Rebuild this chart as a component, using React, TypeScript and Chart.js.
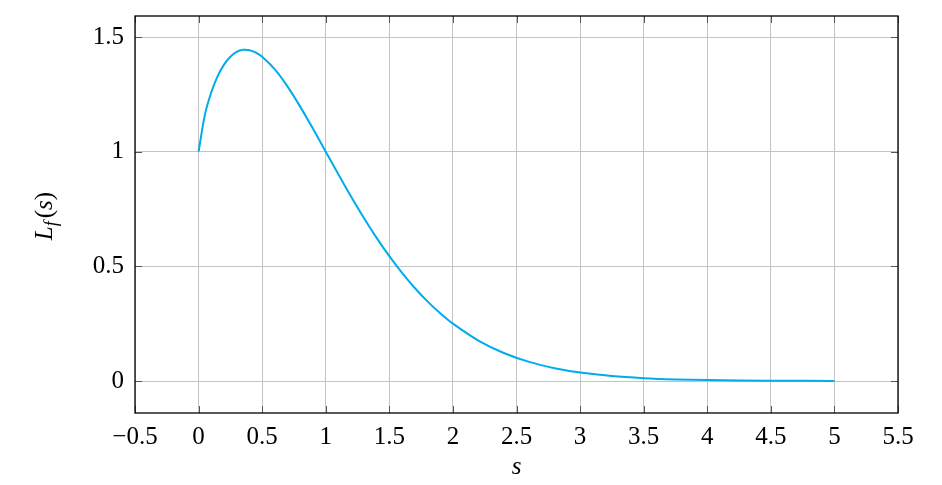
import React, { useEffect, useRef } from "react";
import { Chart, registerables } from "chart.js";

Chart.register(...registerables);

const S_VALUES = [0, 0.05, 0.1, 0.15, 0.2, 0.25, 0.3, 0.35, 0.4, 0.45, 0.5, 0.6, 0.7, 0.8, 0.9, 1.0, 1.1, 1.2, 1.3, 1.4, 1.5, 1.6, 1.7, 1.8, 1.9, 2.0, 2.2, 2.4, 2.6, 2.8, 3.0, 3.25, 3.5, 3.75, 4.0, 4.5, 5.0];
const L_VALUES = [1, 1.1616, 1.2589, 1.3292, 1.3797, 1.4142, 1.4351, 1.444, 1.4427, 1.4323, 1.4142, 1.3587, 1.2836, 1.1954, 1.0995, 1.0, 0.9005, 0.8035, 0.711, 0.6243, 0.5443, 0.4714, 0.4057, 0.3471, 0.2953, 0.25, 0.1765, 0.1223, 0.0834, 0.056, 0.037, 0.0217, 0.0125, 0.007, 0.0039, 0.00115, 0.00032];
const X_TICKS = [-0.5, 0, 0.5, 1, 1.5, 2, 2.5, 3, 3.5, 4, 4.5, 5, 5.5];
const Y_TICKS = [0, 0.5, 1, 1.5];
const X_RANGE = [-0.5, 5.5];
const Y_RANGE = [-0.1395, 1.5916];

const FONT = "'Liberation Serif', 'DejaVu Serif', serif";

export default function App() {
  const ref = useRef<HTMLCanvasElement>(null);

  useEffect(() => {
    document.body.style.margin = "0";
    const canvas = ref.current!;
    const decor = {
      id: "decor",
      afterDraw(chart: any) {
        const { ctx, chartArea: a, scales } = chart;
        ctx.save();
        ctx.strokeStyle = "#555";
        ctx.lineWidth = 1;
        const tl = 7;
        X_TICKS.forEach((v) => {
          const x = Math.round(scales.x.getPixelForValue(v)) + 0.5;
          ctx.beginPath();
          ctx.moveTo(x, a.bottom);
          ctx.lineTo(x, a.bottom - tl);
          ctx.moveTo(x, a.top);
          ctx.lineTo(x, a.top + tl);
          ctx.stroke();
        });
        Y_TICKS.forEach((v) => {
          const y = Math.round(scales.y.getPixelForValue(v)) + 0.5;
          ctx.beginPath();
          ctx.moveTo(a.left, y);
          ctx.lineTo(a.left + tl, y);
          ctx.moveTo(a.right, y);
          ctx.lineTo(a.right - tl, y);
          ctx.stroke();
        });
        ctx.strokeStyle = "#000";
        ctx.lineWidth = 1.3;
        ctx.strokeRect(a.left, a.top, a.right - a.left, a.bottom - a.top);
        ctx.fillStyle = "#000";
        ctx.font = `italic 25px ${FONT}`;
        ctx.textAlign = "center";
        ctx.textBaseline = "alphabetic";
        ctx.fillText("s", (a.left + a.right) / 2, 474);
        ctx.translate(52, 216);
        ctx.rotate(-Math.PI / 2);
        const parts: [string, string, number][] = [
          ["L", `italic 25px ${FONT}`, 0],
          ["f", `italic 18px ${FONT}`, 5],
          ["(", `25px ${FONT}`, 0],
          ["s", `italic 25px ${FONT}`, 0],
          [")", `25px ${FONT}`, 0],
        ];
        let total = 0;
        parts.forEach(([t, f]) => {
          ctx.font = f;
          total += ctx.measureText(t).width + (t === "f" ? 3 : 0);
        });
        let cx = -total / 2;
        ctx.textAlign = "left";
        parts.forEach(([t, f, dy]) => {
          ctx.font = f;
          ctx.fillText(t, cx, dy);
          cx += ctx.measureText(t).width + (t === "f" ? 3 : 0);
        });
        ctx.restore();
      },
    };
    const chart = new Chart(canvas, {
      type: "line",
      data: {
        datasets: [
          {
            data: S_VALUES.map((s, i) => ({ x: s, y: L_VALUES[i] })),
            borderColor: "rgb(0,172,236)",
            borderWidth: 2,
            pointRadius: 0,
            tension: 0.3,
            fill: false,
          },
        ],
      },
      options: {
        animation: false,
        responsive: false,
        maintainAspectRatio: false,
        layout: { padding: { left: 0, right: 44, top: 16, bottom: 0 } },
        plugins: { legend: { display: false }, tooltip: { enabled: false } },
        scales: {
          x: {
            type: "linear",
            min: X_RANGE[0],
            max: X_RANGE[1],
            afterBuildTicks: (s: any) => {
              s.ticks = X_TICKS.map((v) => ({ value: v }));
            },
            afterFit: (s: any) => {
              s.height = 72;
              s.paddingLeft = 0;
              s.paddingRight = 0;
            },
            grid: { color: "#c4c4c4", lineWidth: 1, drawTicks: false },
            border: { display: false },
            ticks: {
              color: "#000",
              font: { family: FONT, size: 25 },
              padding: 9,
              maxRotation: 0,
              autoSkip: false,
              callback: (v: any) => String(v).replace("-", "\u2212"),
            },
          },
          y: {
            type: "linear",
            min: Y_RANGE[0],
            max: Y_RANGE[1],
            afterBuildTicks: (s: any) => {
              s.ticks = Y_TICKS.map((v) => ({ value: v }));
            },
            afterFit: (s: any) => {
              s.width = 135;
              s.paddingTop = 0;
              s.paddingBottom = 0;
            },
            grid: { color: "#c4c4c4", lineWidth: 1, drawTicks: false },
            border: { display: false },
            ticks: {
              color: "#000",
              font: { family: FONT, size: 25 },
              padding: 11,
              autoSkip: false,
              callback: (v: any) => String(v),
            },
          },
        },
      },
      plugins: [decor],
    } as any);
    return () => chart.destroy();
  }, []);

  return (
    <div style={{ position: "absolute", left: 0, top: 0, width: 942, height: 485 }}>
      <canvas ref={ref} width={942} height={485} style={{ width: 942, height: 485 }} />
    </div>
  );
}
